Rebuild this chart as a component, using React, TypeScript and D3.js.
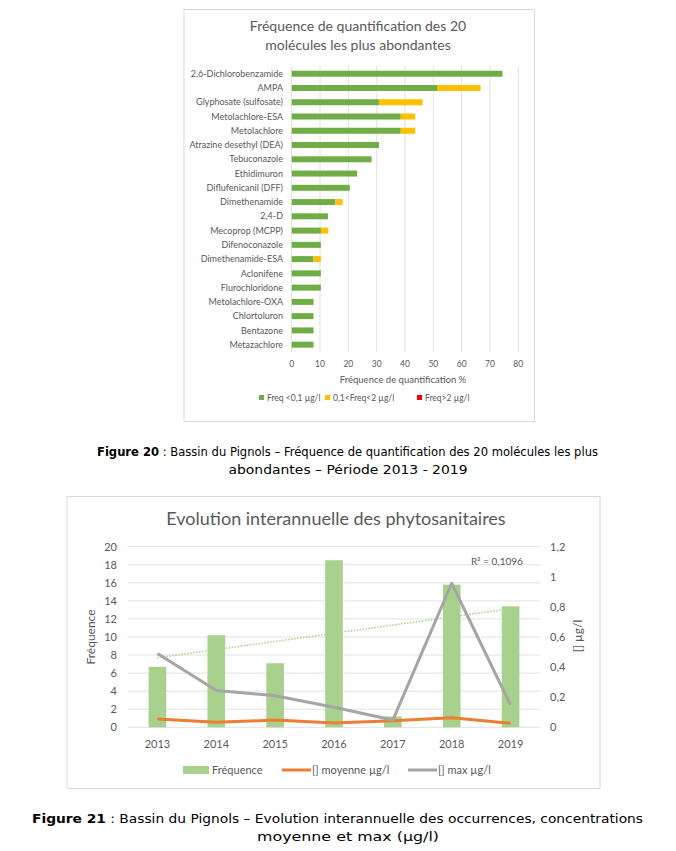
import React from "react";
import * as d3 from "d3";

const molecules = [
  "2,6-Dichlorobenzamide", "AMPA", "Glyphosate (sulfosate)", "Metolachlore-ESA", "Metolachlore",
  "Atrazine desethyl (DEA)", "Tebuconazole", "Ethidimuron", "Diflufenicanil (DFF)", "Dimethenamide",
  "2,4-D", "Mecoprop (MCPP)", "Difenoconazole", "Dimethenamide-ESA", "Aclonifene",
  "Flurochloridone", "Metolachlore-OXA", "Chlortoluron", "Bentazone", "Metazachlore",
];
const freqLow = [74.4, 51.3, 30.8, 38.5, 38.5, 30.8, 28.2, 23.1, 20.5, 15.4, 12.8, 10.3, 10.3, 7.7, 10.3, 10.3, 7.7, 7.7, 7.7, 7.7];
const freqMid = [0, 15.4, 15.4, 5.1, 5.1, 0, 0, 0, 0, 2.6, 0, 2.6, 0, 2.6, 0, 0, 0, 0, 0, 0];
const freqHigh = [0, 0, 0, 0, 0, 0, 0, 0, 0, 0, 0, 0, 0, 0, 0, 0, 0, 0, 0, 0];
const topTicks = [0, 10, 20, 30, 40, 50, 60, 70, 80];
const topLegend = ["Freq <0,1 µg/l", "0,1<Freq<2 µg/l", "Freq>2 µg/l"];

const years = ["2013", "2014", "2015", "2016", "2017", "2018", "2019"];
const frequence = [6.7, 10.2, 7.1, 18.5, 1.2, 15.8, 13.4];
const moyenne = [0.055, 0.033, 0.048, 0.029, 0.044, 0.064, 0.027];
const maxi = [0.49, 0.245, 0.21, 0.133, 0.048, 0.957, 0.148];
const leftTicks = [0, 2, 4, 6, 8, 10, 12, 14, 16, 18, 20];
const rightTicks = [0, 0.2, 0.4, 0.6, 0.8, 1, 1.2];

const FONT = "Lato, 'Open Sans', sans-serif";
const TXT = "#595959";

function TopChart() {
  const x = d3.scaleLinear().domain([0, 80]).range([291.7, 518.3]);
  const y = d3.scaleBand().domain(molecules).range([66.6, 351.8]).paddingInner(0.58).paddingOuter(0.29);
  const colors = ["#70AD47", "#FFC000", "#FF0000"];
  const stackData = molecules.map((m, i) => ({ m, low: freqLow[i], mid: freqMid[i], high: freqHigh[i] }));
  const series = d3.stack<any>().keys(["low", "mid", "high"])(stackData);
  const legendX = [259, 325, 417];
  return (
    <g fontFamily={FONT}>
      <rect x={184} y={9.5} width={350.5} height={412} fill="#fff" stroke="#d9d9d9" />
      <text x={358} y={31} textAnchor="middle" fontSize={14} fill={TXT}>Fréquence de quantification des 20</text>
      <text x={358} y={50} textAnchor="middle" fontSize={14} fill={TXT}>molécules les plus abondantes</text>
      {topTicks.map((t) => (
        <g key={t}>
          <line x1={x(t)} x2={x(t)} y1={66} y2={352} stroke="#d9d9d9" strokeWidth={0.8} />
          <text x={x(t)} y={367} textAnchor="middle" fontSize={8.5} fill={TXT}>{t}</text>
        </g>
      ))}
      {series.map((s, si) => (
        <g key={si} fill={colors[si]}>
          {s.map((d: any, i: number) => (
            <rect key={i} x={x(d[0])} y={y(molecules[i])!} width={Math.max(0, x(d[1]) - x(d[0]))} height={y.bandwidth()} />
          ))}
        </g>
      ))}
      {molecules.map((m) => (
        <text key={m} x={283} y={y(m)! + y.bandwidth() / 2} dy="0.35em" textAnchor="end" fontSize={9} fill={TXT}>{m}</text>
      ))}
      <text x={403} y={383} textAnchor="middle" fontSize={9.5} fill={TXT}>Fréquence de quantification %</text>
      {topLegend.map((l, i) => (
        <g key={l}>
          <rect x={legendX[i]} y={395} width={5} height={5} fill={colors[i]} />
          <text x={legendX[i] + 8} y={398} dy="0.35em" fontSize={8.5} fill={TXT}>{l}</text>
        </g>
      ))}
    </g>
  );
}

function BottomChart() {
  const x = d3.scaleBand().domain(years).range([128, 540]).paddingInner(0.7).paddingOuter(0.35);
  const yL = d3.scaleLinear().domain([0, 20]).range([727.3, 546.7]);
  const yR = d3.scaleLinear().domain([0, 1.2]).range([727.3, 546.7]);
  const cx = (yr: string) => x(yr)! + x.bandwidth() / 2;
  const line = d3.line<number>().x((_, i) => cx(years[i])).y((d) => yR(d));
  // linear trendline on frequence
  const xs = years.map((_, i) => i + 1);
  const mx = d3.mean(xs)!;
  const my = d3.mean(frequence)!;
  const slope = d3.sum(xs.map((v, i) => (v - mx) * (frequence[i] - my))) / d3.sum(xs.map((v) => (v - mx) ** 2));
  const icpt = my - slope * mx;
  const trend = (v: number) => icpt + slope * v;
  return (
    <g fontFamily={FONT}>
      <rect x={67} y={496.5} width={533} height={292} fill="#fff" stroke="#d9d9d9" />
      <text x={336} y={525} textAnchor="middle" fontSize={18} fill={TXT}>Evolution interannuelle des phytosanitaires</text>
      {leftTicks.map((t) => (
        <g key={t}>
          <line x1={128} x2={540} y1={yL(t)} y2={yL(t)} stroke="#d9d9d9" strokeWidth={0.8} />
          <text x={117} y={yL(t)} dy="0.35em" textAnchor="end" fontSize={11} fill={TXT}>{t}</text>
        </g>
      ))}
      {rightTicks.map((t) => (
        <text key={t} x={550} y={yR(t)} dy="0.35em" fontSize={11} fill={TXT}>{String(Math.round(t * 10) / 10).replace(".", ",")}</text>
      ))}
      {years.map((yr, i) => (
        <g key={yr}>
          <rect x={x(yr)!} y={yL(frequence[i])} width={x.bandwidth()} height={yL(0) - yL(frequence[i])} fill="#A9D18E" />
          <text x={cx(yr)} y={744} dy="0.35em" textAnchor="middle" fontSize={11} fill={TXT}>{yr}</text>
        </g>
      ))}
      <line x1={cx(years[0])} x2={cx(years[6])} y1={yL(trend(1))} y2={yL(trend(7))} stroke="#A9D18E" strokeWidth={1.5} strokeDasharray="1.5 1.5" />
      <path d={line(moyenne)!} fill="none" stroke="#ED7D31" strokeWidth={3} strokeLinejoin="round" />
      <path d={line(maxi)!} fill="none" stroke="#A5A5A5" strokeWidth={3} strokeLinejoin="round" />
      <text x={497} y={561} dy="0.35em" textAnchor="middle" fontSize={10} fill={TXT}>R² = 0,1096</text>
      <text transform="translate(95,637) rotate(-90)" textAnchor="middle" fontSize={12} fill={TXT}>Fréquence</text>
      <text transform="translate(582,636) rotate(-90)" textAnchor="middle" fontSize={12} fill={TXT}>[] µg/l</text>
      <rect x={183} y={766} width={26} height={8} fill="#A9D18E" />
      <text x={212} y={770} dy="0.35em" fontSize={11} fill={TXT}>Fréquence</text>
      <line x1={282} x2={311} y1={770} y2={770} stroke="#ED7D31" strokeWidth={3} />
      <text x={312} y={770} dy="0.35em" fontSize={11} fill={TXT}>[] moyenne µg/l</text>
      <line x1={408} x2={437} y1={770} y2={770} stroke="#A5A5A5" strokeWidth={3} />
      <text x={438} y={770} dy="0.35em" fontSize={11} fill={TXT}>[] max µg/l</text>
    </g>
  );
}

function Caption({ y, label, rest, line2, w1, x1, w2 }: { y: number; label: string; rest: string; line2: string; w1: number; x1: number; w2: number }) {
  return (
    <g fontFamily="'DejaVu Sans', sans-serif" fontSize={12.5} fill="#000">
      <text x={x1} y={y} textLength={w1} lengthAdjust="spacingAndGlyphs">
        <tspan fontWeight="bold">{label}</tspan>
        <tspan>{rest}</tspan>
      </text>
      <text x={348 - w2 / 2} y={y + 18} textLength={w2} lengthAdjust="spacingAndGlyphs">{line2}</text>
    </g>
  );
}

export default function App() {
  return (
    <svg width={676} height={851} style={{ position: "absolute", left: 0, top: 0, background: "#fff" }}>
      <rect width={676} height={851} fill="#fff" />
      <TopChart />
      <BottomChart />
      <Caption y={456} label="Figure 20" rest=" : Bassin du Pignols – Fréquence de quantification des 20 molécules les plus" line2="abondantes – Période 2013 - 2019" w1={501} x1={97} w2={239} />
      <Caption y={823} label="Figure 21" rest=" : Bassin du Pignols – Evolution interannuelle des occurrences, concentrations" line2="moyenne et max (µg/l)" w1={611} x1={32} w2={182} />
    </svg>
  );
}
